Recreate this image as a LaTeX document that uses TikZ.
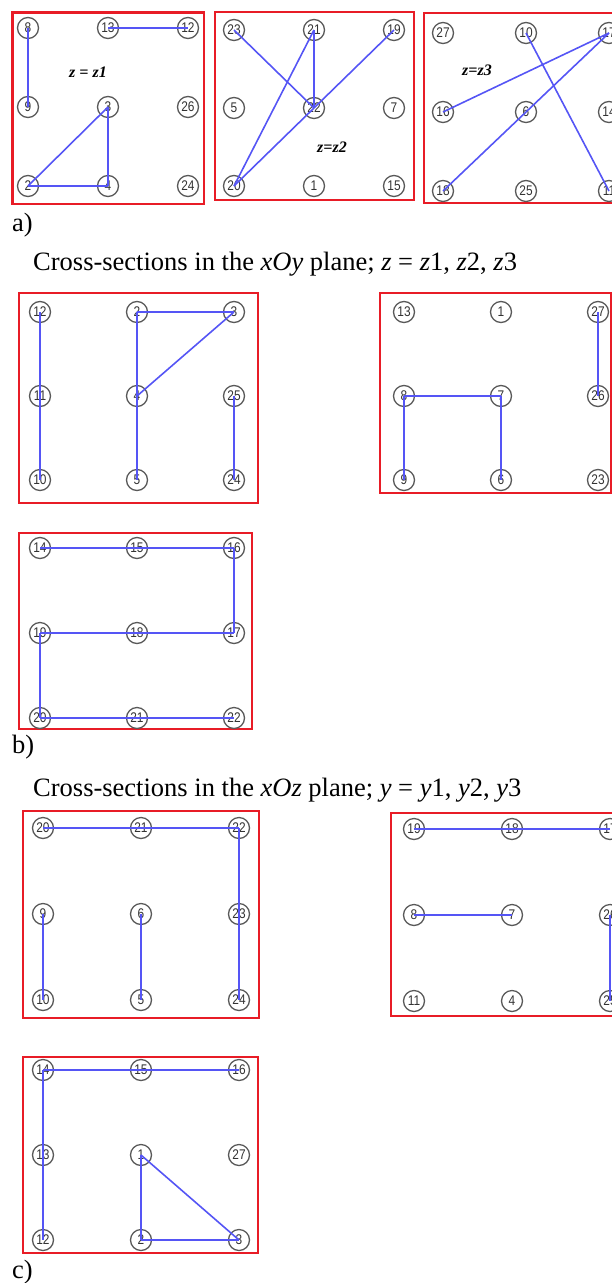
\documentclass[tikz,border=0pt]{standalone}
\usepackage{fontspec}
\setmainfont{Liberation Serif}
\setsansfont{Liberation Sans}
\newfontfamily\cellfont[FakeStretch=0.85]{Liberation Sans}
\usepackage{tikz}
\definecolor{linkblue}{RGB}{85,85,245}
\definecolor{framered}{RGB}{232,28,38}
\tikzset{
  cell/.style={circle,draw=black!65,line width=1.3pt,minimum size=21pt,inner sep=0pt,
    text=black!80,font=\cellfont\fontsize{14}{14}\selectfont},
  link/.style={linkblue,line width=1.6pt},
  frame/.style={draw=framered,line width=2.8pt},
  plane/.style={font=\bfseries\itshape\fontsize{16}{16}\selectfont},
  caption/.style={anchor=base west,inner sep=0pt,font=\fontsize{26.5}{26.5}\selectfont}
}

\begin{document}
\begin{tikzpicture}[x=1pt,y=-1pt]
\useasboundingbox (0,0) rectangle (612,1283);
\clip (0,0) rectangle (612,1283);

% a) cross-sections z = z1, z2, z3
\draw[frame] (12.7,12.7) rectangle (204,204);
\draw[frame] (215,12) rectangle (414,200);
\draw[frame] (424,13) rectangle (640,203);
\foreach \n/\c/\r in {8/0/0,13/1/0,12/2/0,9/0/1,3/1/1,26/2/1,2/0/2,4/1/2,24/2/2}
  \node[cell] (a1-\n) at ({28+80*\c},{28+79*\r}) {\n};
\foreach \n/\c/\r in {23/0/0,21/1/0,19/2/0,5/0/1,22/1/1,7/2/1,20/0/2,1/1/2,15/2/2}
  \node[cell] (a2-\n) at ({234+80*\c},{30+78*\r}) {\n};
\foreach \n/\c/\r in {27/0/0,10/1/0,17/2/0,16/0/1,6/1/1,14/2/1,18/0/2,25/1/2,11/2/2}
  \node[cell] (a3-\n) at ({443+83*\c},{33+79*\r}) {\n};
\node[plane] (za) at (88,72) {z = z1};
\node[plane] (zb) at (332,147) {z=z2};
\node[plane] (zc) at (477,70) {z=z3};
\foreach \p/\q in {8/9,13/12,2/3,3/4,2/4}
  \draw[link] (a1-\p.center) -- (a1-\q.center);
\foreach \p/\q in {23/22,21/22,21/20,19/22,22/20}
  \draw[link] (a2-\p.center) -- (a2-\q.center);
\foreach \p/\q in {10/11,16/17,18/6,6/17}
  \draw[link] (a3-\p.center) -- (a3-\q.center);
\node[caption] (capa) at (12,231) {a)};
\node[caption] (tita) at (33,270) {Cross-sections in the \textit{xOy} plane; \textit{z} = \textit{z}1, \textit{z}2, \textit{z}3};

% b) cross-sections in xOy
\draw[frame] (19,293) rectangle (258,503);
\draw[frame] (380,293) rectangle (611,493);
\draw[frame] (19,533) rectangle (252,729);
\foreach \n/\c/\r in {12/0/0,2/1/0,3/2/0,11/0/1,4/1/1,25/2/1,10/0/2,5/1/2,24/2/2}
  \node[cell] (b1-\n) at ({40+97*\c},{312+84*\r}) {\n};
\foreach \n/\c/\r in {13/0/0,1/1/0,27/2/0,8/0/1,7/1/1,26/2/1,9/0/2,6/1/2,23/2/2}
  \node[cell] (b2-\n) at ({404+97*\c},{312+84*\r}) {\n};
\foreach \n/\c/\r in {14/0/0,15/1/0,16/2/0,19/0/1,18/1/1,17/2/1,20/0/2,21/1/2,22/2/2}
  \node[cell] (b3-\n) at ({40+97*\c},{548+85*\r}) {\n};
\foreach \p/\q in {12/10,2/3,3/4,2/5,25/24}
  \draw[link] (b1-\p.center) -- (b1-\q.center);
\foreach \p/\q in {8/7,8/9,7/6,27/26}
  \draw[link] (b2-\p.center) -- (b2-\q.center);
\foreach \p/\q in {14/16,16/17,19/17,19/20,20/22}
  \draw[link] (b3-\p.center) -- (b3-\q.center);
\node[caption] (capb) at (12,753) {b)};
\node[caption] (titb) at (33,796) {Cross-sections in the \textit{xOz} plane; \textit{y} = \textit{y}1, \textit{y}2, \textit{y}3};

% c) cross-sections in xOz
\draw[frame] (23,811) rectangle (259,1018);
\draw[frame] (391,813) rectangle (640,1016);
\draw[frame] (23,1057) rectangle (258,1253);
\foreach \n/\c/\r in {20/0/0,21/1/0,22/2/0,9/0/1,6/1/1,23/2/1,10/0/2,5/1/2,24/2/2}
  \node[cell] (c1-\n) at ({43+98*\c},{828+86*\r}) {\n};
\foreach \n/\c/\r in {19/0/0,18/1/0,17/2/0,8/0/1,7/1/1,26/2/1,11/0/2,4/1/2,25/2/2}
  \node[cell] (c2-\n) at ({414+98*\c},{829+86*\r}) {\n};
\foreach \n/\c/\r in {14/0/0,15/1/0,16/2/0,13/0/1,1/1/1,27/2/1,12/0/2,2/1/2,3/2/2}
  \node[cell] (c3-\n) at ({43+98*\c},{1070+85*\r}) {\n};
\foreach \p/\q in {20/22,22/24,9/10,6/5}
  \draw[link] (c1-\p.center) -- (c1-\q.center);
\foreach \p/\q in {19/17,8/7,26/25}
  \draw[link] (c2-\p.center) -- (c2-\q.center);
\foreach \p/\q in {14/16,14/12,1/2,1/3,2/3}
  \draw[link] (c3-\p.center) -- (c3-\q.center);
\node[caption] (capc) at (12,1278) {c)};
\end{tikzpicture}
\end{document}
